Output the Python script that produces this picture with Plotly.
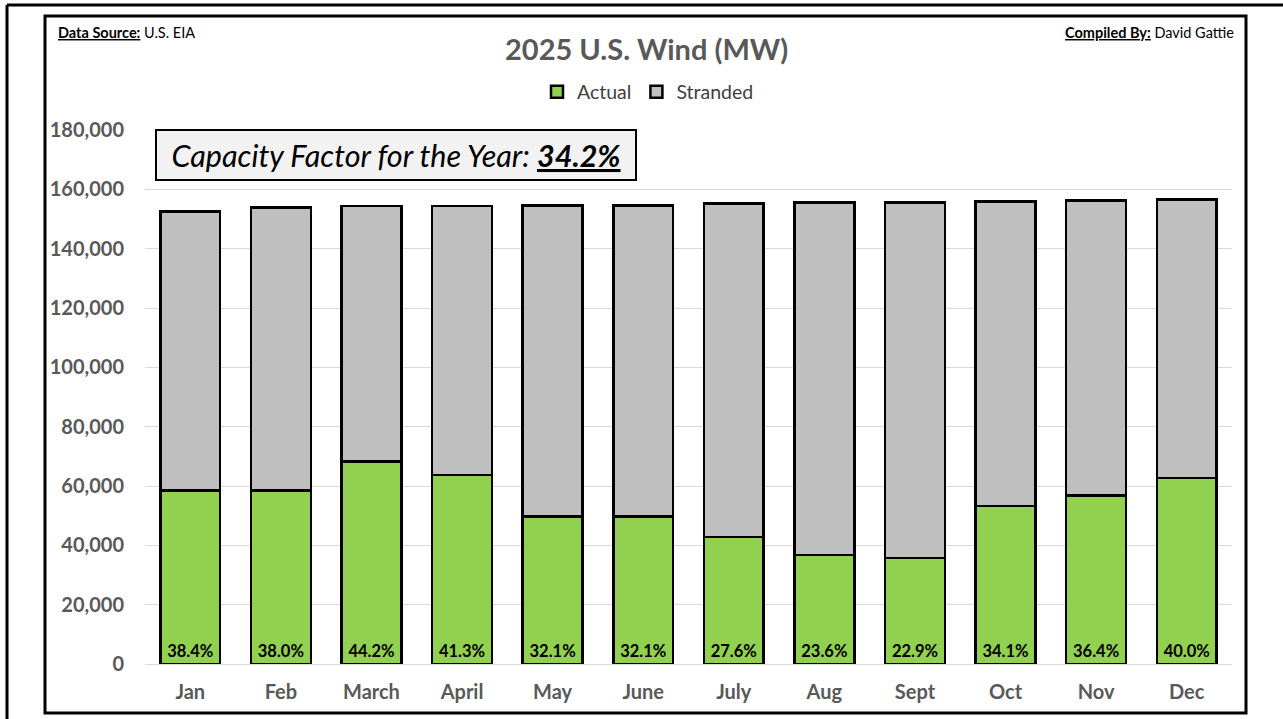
import plotly.graph_objects as go

months = ["Jan", "Feb", "March", "April", "May", "June", "July", "Aug", "Sept", "Oct", "Nov", "Dec"]
actual_mw = [58500, 58450, 68200, 63700, 49650, 49650, 42850, 36700, 35650, 53200, 56850, 62650]
stranded_mw = [93950, 95350, 86100, 90600, 104950, 104950, 112300, 118800, 119950, 102750, 99350, 94000]
cf_labels = ["38.4%", "38.0%", "44.2%", "41.3%", "32.1%", "32.1%", "27.6%", "23.6%", "22.9%", "34.1%", "36.4%", "40.0%"]
year_cf = "34.2%"
y_ticks = [0, 20000, 40000, 60000, 80000, 100000, 120000, 140000, 160000, 180000]

FONT = "Lato"
GRAY_TXT = "#595959"

W, H = 1283, 719
L, R, T, B = 145, 1232, 130, 664

def px(x):
    return (x - L) / (R - L)

def py(y):
    return (B - y) / (B - T)

fig = go.Figure()
fig.add_trace(go.Bar(
    name="Actual", x=months, y=actual_mw,
    marker=dict(color="#92d050", line=dict(color="black", width=2.5)),
    text=cf_labels, textposition="inside", insidetextanchor="start", textangle=0,
    textfont=dict(family=FONT, size=16.5, color="black", weight="bold"),
    cliponaxis=False,
))
fig.add_trace(go.Bar(
    name="Stranded", x=months, y=stranded_mw,
    marker=dict(color="#bfbfbf", line=dict(color="black", width=2.5)),
))

border = dict(color="black", width=3)
shapes = [
    # inner chart frame
    dict(type="rect", xref="paper", yref="paper", x0=px(45), x1=px(1246), y0=py(713), y1=py(16),
         line=border, fillcolor="rgba(0,0,0,0)", layer="above"),
    # outer frame (top and left edges visible)
    dict(type="line", xref="paper", yref="paper", x0=px(7), x1=px(1290), y0=py(5), y1=py(5),
         line=border, layer="above"),
    dict(type="line", xref="paper", yref="paper", x0=px(7), x1=px(7), y0=py(5), y1=py(730),
         line=border, layer="above"),
]

annotations = [
    dict(xref="paper", yref="paper", x=px(646), y=py(48), xanchor="center", yanchor="middle",
         text="<b>2025 U.S. Wind (MW)</b>", showarrow=False,
         font=dict(family=FONT, size=29, color=GRAY_TXT)),
    dict(xref="paper", yref="paper", x=px(56), y=py(32), xanchor="left", yanchor="middle",
         text="<b><u>Data Source:</u></b> U.S. EIA", showarrow=False,
         font=dict(family=FONT, size=14.5, color="black")),
    dict(xref="paper", yref="paper", x=px(1236), y=py(32), xanchor="right", yanchor="middle",
         text="<b><u>Compiled By:</u></b> David Gattie", showarrow=False,
         font=dict(family=FONT, size=14.5, color="black")),
    dict(xref="paper", yref="paper", x=px(395.5), y=py(155), xanchor="center", yanchor="middle",
         text="<i>Capacity Factor for the Year: <b><u>" + year_cf + "</u></b></i>", showarrow=False,
         font=dict(family=FONT, size=30.5, color="black"),
         bgcolor="#f2f2f2", bordercolor="black", borderwidth=2, borderpad=2,
         width=474, height=44),
]

fig.update_layout(
    width=W, height=H,
    margin=dict(l=L, r=W - R, t=T, b=H - B, pad=0),
    paper_bgcolor="white", plot_bgcolor="white",
    barmode="stack", bargap=0.34,
    font=dict(family=FONT),
    showlegend=True,
    legend=dict(orientation="h", x=px(648), y=py(92), xanchor="center", yanchor="middle",
                font=dict(family=FONT, size=19.5, color="#404040"), traceorder="normal",
                itemwidth=30, tracegroupgap=0, bgcolor="rgba(0,0,0,0)"),
    xaxis=dict(showgrid=False, showline=False, ticks="", ticklabelstandoff=14,
               tickfont=dict(family=FONT, size=20, color=GRAY_TXT, weight="bold")),
    yaxis=dict(range=[0, 180000], tickvals=y_ticks, tickformat=",d",
               showgrid=True, gridcolor="#d9d9d9", gridwidth=1, zeroline=True,
               zerolinecolor="#d9d9d9", zerolinewidth=1, showline=False, ticks="",
               ticklabelstandoff=20,
               tickfont=dict(family=FONT, size=20, color=GRAY_TXT, weight="bold")),
    shapes=shapes,
    annotations=annotations,
)

fig.write_html("out.html", config={"displayModeBar": False},
               post_script="document.body.style.margin='0px';")
